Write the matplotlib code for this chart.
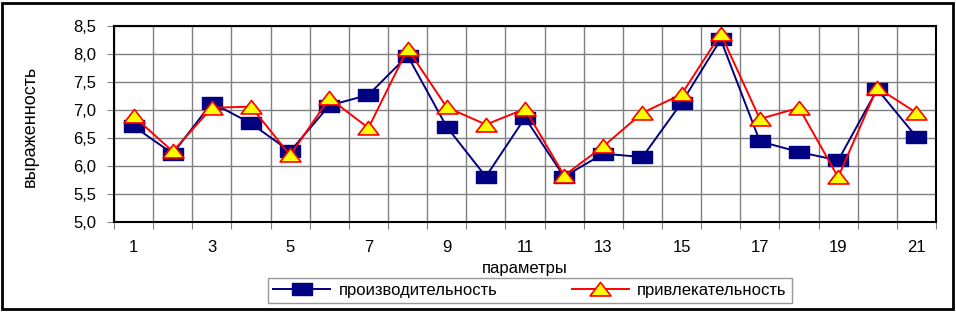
import matplotlib.pyplot as plt
import numpy as np
from matplotlib.patches import Rectangle
from matplotlib.path import Path

plt.rcParams['font.family'] = ['Liberation Sans', 'DejaVu Sans']
plt.rcParams['font.size'] = 11

# --- data ---
params = np.arange(1, 22)
productivity = [6.71, 6.22, 7.13, 6.76, 6.26, 7.08, 7.27, 7.97, 6.70, 5.81, 6.86,
                5.81, 6.22, 6.16, 7.13, 8.26, 6.44, 6.25, 6.10, 7.37, 6.52]
attractiveness = [6.89, 6.26, 7.04, 7.06, 6.19, 7.21, 6.68, 8.09, 7.05, 6.74, 7.02,
                  5.83, 6.35, 6.95, 7.28, 8.36, 6.84, 7.04, 5.80, 7.40, 6.95]
y_ticks = [5.0, 5.5, 6.0, 6.5, 7.0, 7.5, 8.0, 8.5]
y_ticklabels = ['5,0', '5,5', '6,0', '6,5', '7,0', '7,5', '8,0', '8,5']
x_labeled = [1, 3, 5, 7, 9, 11, 13, 15, 17, 19, 21]

# markers in the source are stretched sideways
wide_square = Path([(-1, -0.6), (1, -0.6), (1, 0.6), (-1, 0.6), (-1, -0.6)],
                   [Path.MOVETO, Path.LINETO, Path.LINETO, Path.LINETO, Path.CLOSEPOLY])
wide_tri = Path([(-1, -0.62), (1, -0.62), (0, 0.68), (-1, -0.62)],
                [Path.MOVETO, Path.LINETO, Path.LINETO, Path.CLOSEPOLY])

fig = plt.figure(figsize=(9.56, 3.12), dpi=100)
ax = fig.add_axes([114/956, 1 - 222/312, 822/956, 196/312])

grid_c = '#808080'
ax.plot(params, productivity, color='#000080', lw=1.4, marker=wide_square, ms=14,
        mfc='#000080', mec='#000080', label='производительность', zorder=3)
ax.plot(params, attractiveness, color='#FF0000', lw=1.4, marker=wide_tri, ms=15,
        mfc='#FFFF00', mec='#FF0000', mew=1.2, label='привлекательность', zorder=4)

ax.set_xlim(0.5, 21.5)
ax.set_ylim(5.0, 8.5)

# category boundaries carry the ticks and vertical grid, odd categories the labels
ax.set_xticks(np.arange(0.5, 22, 1.0))
ax.set_xticklabels([])
ax.set_xticks(x_labeled, minor=True)
ax.set_xticklabels([str(v) for v in x_labeled], minor=True)
ax.tick_params(axis='x', which='major', length=5, color=grid_c, direction='out')
ax.tick_params(axis='x', which='minor', length=0, pad=13, labelsize=12)

ax.set_yticks(y_ticks)
ax.set_yticklabels(y_ticklabels)
ax.tick_params(axis='y', length=5, color=grid_c, pad=8, labelsize=12)

ax.grid(True, which='major', color=grid_c, lw=1.0)
ax.set_axisbelow(True)
for s in ax.spines.values():
    s.set_linewidth(1.5)
    s.set_color('black')

fig.text(30/956, 1 - 126/312, 'выраженность', rotation=90, ha='center', va='center', fontsize=13)
fig.text(525/956, 1 - 268/312, 'параметры', ha='center', va='center', fontsize=12)

leg = fig.legend(loc='upper center', bbox_to_anchor=(530/956, 1 - 278/312), ncol=2,
                 frameon=True, fancybox=False, fontsize=12, borderpad=0.3,
                 handlelength=3.4, handletextpad=0.5, columnspacing=4.5,
                 borderaxespad=0)
leg.get_frame().set_edgecolor('#808080')
leg.get_frame().set_linewidth(1.0)

# outer chart border
fig.patches.append(Rectangle((1.5/956, 3/312), 951/956, 306/312, transform=fig.transFigure,
                             fill=False, edgecolor='black', lw=2.0))

fig.savefig('out.png', dpi=100)
